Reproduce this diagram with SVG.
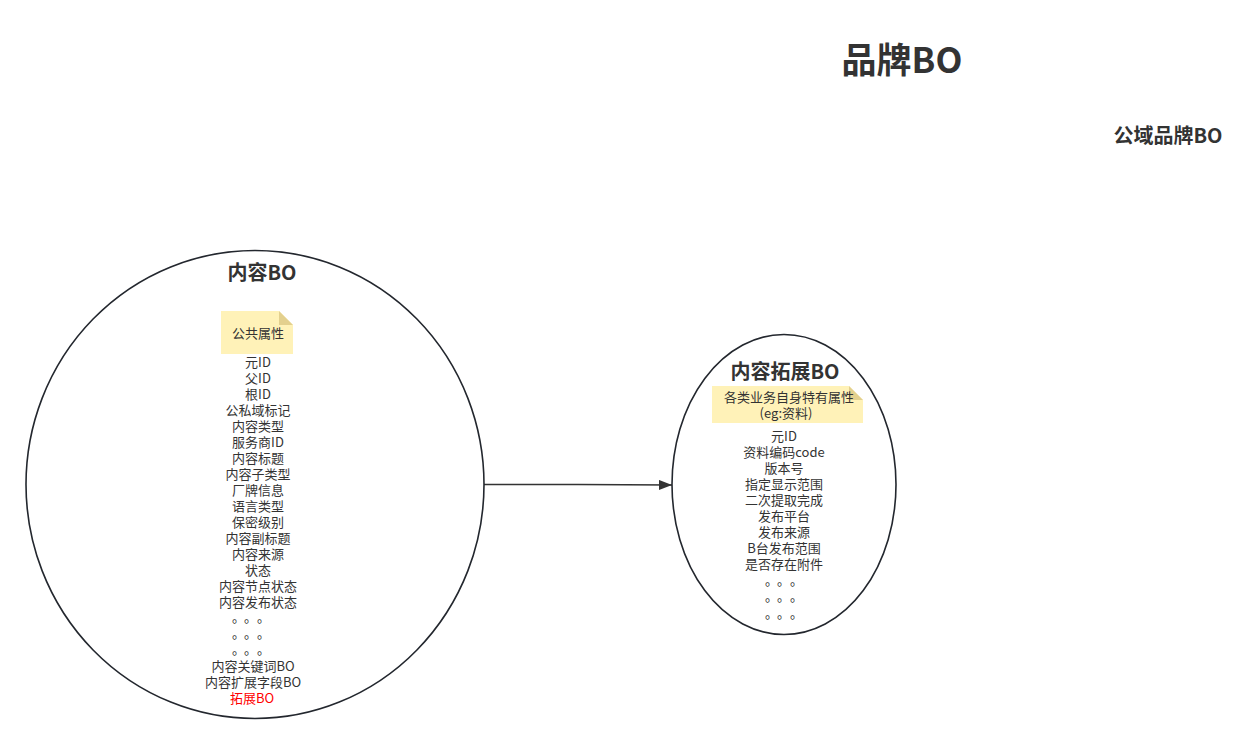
<svg xmlns="http://www.w3.org/2000/svg" width="1252" height="747" viewBox="0 0 1252 747">
<style>
text{font-family:"Noto Sans CJK SC","Liberation Sans",sans-serif;fill:#333333;text-anchor:middle}
.t{font-weight:bold;font-size:20px}
.l{font-size:13px}
.d{font-size:13px;text-anchor:start}
.e{fill:#ffffff;stroke:#23272e;stroke-width:1.6}
.n{fill:#fff2b8}
.f{fill:#e3d08e}
</style>
<defs>
<marker id="ah" markerWidth="14" markerHeight="12" refX="13" refY="5" orient="auto" markerUnits="userSpaceOnUse">
<path d="M0,0 L13,5 L0,10 Z" fill="#333333"/>
</marker>
</defs>
<rect width="1252" height="747" fill="#ffffff"/>
<g id="brand-title"><text x="902" y="73" style="font-weight:bold;font-size:35px">品牌BO</text></g>
<g id="public-brand"><text class="t" x="1168" y="143">公域品牌BO</text></g>
<g id="connectors">
<path d="M484,484.5 L578,484.5 L672,485" fill="none" stroke="#333333" stroke-width="1.3" marker-end="url(#ah)"/>
</g>
<g id="content-bo">
<ellipse class="e" cx="255" cy="484.5" rx="229" ry="234"/>
<text class="t" x="262" y="280">内容BO</text>
<path class="n" d="M221,311 L279,311 L293,325 L293,354 L221,354 Z"/>
<path class="f" d="M279,311 L293,325 L279,325 Z"/>
<text class="l" x="258" y="338">公共属性</text>
<text class="l" x="258" y="367">元ID</text>
<text class="l" x="258" y="383">父ID</text>
<text class="l" x="258" y="399">根ID</text>
<text class="l" x="258" y="415">公私域标记</text>
<text class="l" x="258" y="431">内容类型</text>
<text class="l" x="258" y="447">服务商ID</text>
<text class="l" x="258" y="463">内容标题</text>
<text class="l" x="258" y="479">内容子类型</text>
<text class="l" x="258" y="495">厂牌信息</text>
<text class="l" x="258" y="511">语言类型</text>
<text class="l" x="258" y="527">保密级别</text>
<text class="l" x="258" y="543">内容副标题</text>
<text class="l" x="258" y="559">内容来源</text>
<text class="l" x="258" y="575">状态</text>
<text class="l" x="258" y="591">内容节点状态</text>
<text class="l" x="258" y="607">内容发布状态</text>
<text class="d" x="232 244 257" y="622">。。。</text>
<text class="d" x="232 244 257" y="638">。。。</text>
<text class="d" x="232 244 257" y="654">。。。</text>
<text class="l" x="253" y="671">内容关键词BO</text>
<text class="l" x="253" y="687">内容扩展字段BO</text>
<text class="l" x="252" y="703" style="fill:#ff0000">拓展BO</text>
</g>
<g id="content-ext-bo">
<ellipse class="e" cx="784" cy="484.5" rx="112" ry="150"/>
<text class="t" x="785" y="379">内容拓展BO</text>
<path class="n" d="M712,386 L849,386 L863,400 L863,423 L712,423 Z"/>
<path class="f" d="M849,386 L863,400 L849,400 Z"/>
<text class="l" x="789" y="402">各类业务自身特有属性</text>
<text class="l" x="786" y="418">(eg:资料)</text>
<text class="l" x="784" y="441">元ID</text>
<text class="l" x="784" y="457">资料编码code</text>
<text class="l" x="784" y="473">版本号</text>
<text class="l" x="784" y="489">指定显示范围</text>
<text class="l" x="784" y="505">二次提取完成</text>
<text class="l" x="784" y="521">发布平台</text>
<text class="l" x="784" y="537">发布来源</text>
<text class="l" x="784" y="553">B台发布范围</text>
<text class="l" x="784" y="569">是否存在附件</text>
<text class="d" x="765 777 790" y="585">。。。</text>
<text class="d" x="765 777 790" y="601">。。。</text>
<text class="d" x="765 777 790" y="618">。。。</text>
</g>
</svg>
